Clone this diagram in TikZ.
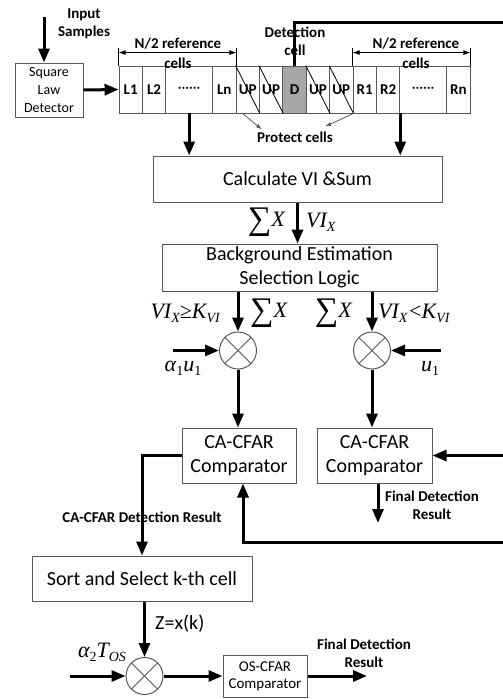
\documentclass[tikz,border=0pt]{standalone}
\usepackage{fontspec}
\setmainfont{Carlito}
\newfontfamily\tnr{Liberation Serif}
\usetikzlibrary{arrows.meta}
\definecolor{bd}{HTML}{595959}
\definecolor{dfill}{HTML}{A6A6A6}
\newcommand{\tm}[1]{{\tnr\itshape\fontsize{22}{22}\selectfont #1}}
\newcommand{\sbx}[1]{\raisebox{-4pt}{\tnr\itshape\fontsize{14}{14}\selectfont #1}}
\newcommand{\sbn}[1]{\raisebox{-4pt}{\tnr\fontsize{14}{14}\selectfont #1}}
\newcommand{\bigsum}{\raisebox{-3pt}{\tnr\fontsize{33}{33}\selectfont ∑}}
\tikzset{
  box/.style={draw=bd, line width=1pt, inner sep=0pt, align=center, font=\fontsize{20}{24}\selectfont},
  smallbox/.style={draw=bd, line width=1pt, inner sep=0pt, align=center},
  cellbox/.style={draw=bd, line width=0.9pt, minimum width=23.4pt, minimum height=47pt, inner sep=0pt, font=\bfseries\fontsize{15}{15}\selectfont},
  flow/.style={line width=3pt, -{Triangle[length=14pt,width=11pt]}},
  thickline/.style={line width=3pt},
  lbl/.style={font=\bfseries\fontsize{15}{18}\selectfont, align=center, inner sep=0pt},
  mathlbl/.style={inner sep=0pt},
  mult/.style={circle, draw=bd, line width=1pt, minimum size=37pt, inner sep=0pt},
  dimline/.style={line width=0.8pt, {Latex[length=7pt,width=5pt]}-{Latex[length=7pt,width=5pt]}},
  tick/.style={line width=0.8pt},
  protarrow/.style={line width=0.8pt, draw=bd, -{Latex[length=6pt,width=4pt]}},
  hatch/.style={line width=0.8pt}
}
\begin{document}
\begin{tikzpicture}[x=1pt,y=-1pt]
\useasboundingbox (0,0) rectangle (503,699);

% input
\node[lbl] (inp) at (84,24) {Input\\Samples};
\coordinate (inTop) at (44,17);
\node[smallbox, minimum width=68pt, minimum height=54pt, font=\fontsize{14}{18}\selectfont] (sq) at (49,90) {Square\\Law\\Detector};
\draw[flow] (inTop) -- (inTop |- sq.north);

% cells
\node[cellbox] (L1) at (130.7,89.5) {L1};
\node[cellbox] (L2) at (154.1,89.5) {L2};
\node[cellbox, minimum width=46.8pt] (dA) at (189.2,89.5) {\textmd{······}};
\node[cellbox] (Ln) at (224.3,89.5) {Ln};
\node[cellbox] (U1) at (247.7,89.5) {UP};
\node[cellbox] (U2) at (271.1,89.5) {UP};
\node[cellbox, fill=dfill] (D) at (294.5,89.5) {D};
\node[cellbox] (U3) at (317.9,89.5) {UP};
\node[cellbox] (U4) at (341.3,89.5) {UP};
\node[cellbox] (R1) at (364.7,89.5) {R1};
\node[cellbox] (R2) at (388.1,89.5) {R2};
\node[cellbox, minimum width=46.8pt] (dB) at (423.2,89.5) {\textmd{······}};
\node[cellbox] (Rn) at (458.3,89.5) {Rn};
\foreach \c in {U1,U2,U3,U4} \draw[hatch] (\c.north west) -- (\c.south east);

\draw[flow] (sq.east) -- (L1.west);

% reference cell labels
\draw[tick] (L1.north west) -- ++(0,-18);
\draw[tick] (Ln.north east) -- ++(0,-18);
\draw[dimline] ([yshift=13]L1.north west) -- ([yshift=13]Ln.north east);
\node[lbl, font=\bfseries\fontsize{15}{20}\selectfont] (refL) at (178,53) {N/2 reference\\cells};
\draw[tick] (R1.north west) -- ++(0,-18);
\draw[tick] (Rn.north east) -- ++(0,-18);
\draw[dimline] ([yshift=13]R1.north west) -- ([yshift=13]Rn.north east);
\node[lbl, font=\bfseries\fontsize{15}{20}\selectfont] (refR) at (416,53) {N/2 reference\\cells};

% detection cell
\node[lbl] (det) at (295,41) {Detection\\cell};
\coordinate (topR) at (503,22);
\draw[thickline] (D.north) |- (topR);

% protect cells
\node[lbl] (prot) at (295,137) {Protect cells};
\draw[protarrow] ([xshift=7]U1.south west) -- ([xshift=5,yshift=2]prot.north west);
\draw[protarrow] (U4.south east) -- ([xshift=-8,yshift=5]prot.north east);

% calculate
\node[box, minimum width=289pt, minimum height=46pt] (calc) at (297.5,179) {Calculate VI \&Sum};
\draw[flow] (dA.south) -- (dA.south |- calc.north);
\draw[flow] (R2.south east) -- (R2.south east |- calc.north);

% background
\node[box, minimum width=275pt, minimum height=47pt] (bg) at (299.5,267.5) {Background Estimation\\Selection Logic};
\draw[flow] (calc.south) -- (calc.south |- bg.north);
\node[mathlbl, anchor=east] (sx0) at (285,222) {\bigsum\tm{X}};
\node[mathlbl, anchor=west] (vi0) at (306,222) {\tm{VI}\sbx{X}};

% multipliers
\node[mult] (m1) at (238,350.5) {};
\node[mult] (m2) at (372,350.5) {};
\foreach \m in {m1,m2} {
  \draw[bd, line width=1pt] (\m.north west) -- (\m.south east);
  \draw[bd, line width=1pt] (\m.north east) -- (\m.south west);
}
\draw[flow] (m1.north |- bg.south) -- (m1.north);
\draw[flow] (m2.north |- bg.south) -- (m2.north);
\node[mathlbl, anchor=east] (c1) at (220,313) {\tm{VI}\sbx{X}{\tnr\fontsize{22}{22}\selectfont ≥}\tm{K}\sbx{VI}};
\node[mathlbl, anchor=west] (sx1) at (250,313) {\bigsum\tm{X}};
\node[mathlbl, anchor=east] (sx2) at (352,313) {\bigsum\tm{X}};
\node[mathlbl, anchor=west] (c2) at (378,313) {\tm{VI}\sbx{X}\,{\tnr\fontsize{22}{22}\selectfont <}\tm{K}\sbx{VI}};

\coordinate (a1in) at (173,350.5);
\draw[flow] (a1in) -- (m1.west);
\node[mathlbl] (a1) at (183,368) {\tm{α}\sbn{1}\tm{u}\sbn{1}};
\coordinate (u1in) at (441,350.5);
\draw[flow] (u1in) -- (m2.east);
\node[mathlbl] (u1) at (430,368) {\tm{u}\sbn{1}};

% CA-CFAR comparators
\node[box, minimum width=114pt, minimum height=55pt] (ca1) at (239,455.5) {CA-CFAR\\Comparator};
\node[box, minimum width=115pt, minimum height=55pt] (ca2) at (374.5,455.5) {CA-CFAR\\Comparator};
\draw[flow] (m1.south) -- (m1.south |- ca1.north);
\draw[flow] (m2.south) -- (m2.south |- ca2.north);
\coordinate (ca2in) at (503,455.5);
\draw[flow] (ca2in) -- (ca2.east);
\coordinate (fin1) at (378,523);
\draw[flow] (fin1 |- ca2.south) -- (fin1);
\node[lbl] (fd1) at (432,505) {Final Detection\\Result};
\coordinate (fbR) at (503,542);
\draw[flow] (fbR) -| ([xshift=4]ca1.south);

% sort
\node[box, minimum width=220pt, minimum height=45pt] (sort) at (142,578.5) {Sort and Select k-th cell};
\draw[flow] (ca1.west) -| (sort.north);
\node[lbl] (cadr) at (142,517) {CA-CFAR Detection Result};

% OS stage
\node[mult] (m3) at (144.5,676) {};
\draw[bd, line width=1pt] (m3.north west) -- (m3.south east);
\draw[bd, line width=1pt] (m3.north east) -- (m3.south west);
\draw[flow] (m3.north |- sort.south) -- (m3.north);
\node[mathlbl, anchor=west] (zx) at (155,624) {\fontsize{20}{24}\selectfont Z=x(k)};
\node[mathlbl] (a2) at (102,652) {\tm{α}\sbn{2}\tm{T}\sbx{OS}};
\coordinate (a2in) at (70,676);
\draw[flow] (a2in) -- (m3.west);
\node[smallbox, minimum width=84pt, minimum height=42pt, font=\fontsize{15}{17}\selectfont] (os) at (265,676) {OS-CFAR\\Comparator};
\draw[flow] (m3.east) -- (os.west);
\coordinate (fin2) at (367,676);
\draw[flow] (os.east) -- (fin2);
\node[lbl] (fd2) at (364,653) {Final Detection\\Result};
\end{tikzpicture}
\end{document}
